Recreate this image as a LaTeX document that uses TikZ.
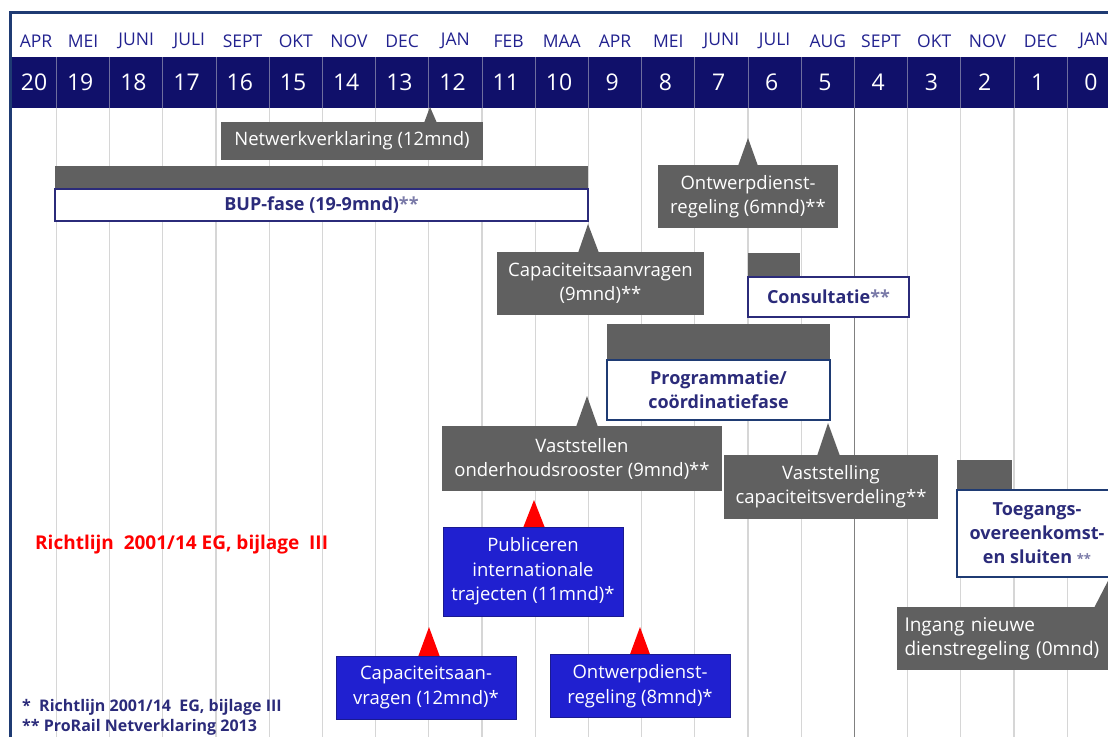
\documentclass[tikz,border=0pt]{standalone}
\usepackage{fontspec}
\setmainfont{Open Sans}
\definecolor{navyfill}{HTML}{10106A}
\definecolor{bordercol}{HTML}{1F3B73}
\definecolor{monthcol}{HTML}{22228F}
\definecolor{gboxcol}{HTML}{606060}
\definecolor{navytext}{HTML}{2B2B7A}
\definecolor{starcol}{HTML}{7A7AA8}
\definecolor{bluebox}{HTML}{2020D0}
\definecolor{blueedge}{HTML}{1A1A90}
\definecolor{gridcol}{HTML}{D6D6D6}
\definecolor{sepcol}{HTML}{6E6E9E}
\tikzset{
  gbox/.style={fill=gboxcol, draw=none, text=white, align=center, inner sep=0pt,
    font=\fontsize{18.5}{24}\selectfont},
  gtab/.style={fill=gboxcol, draw=none, inner sep=0pt},
  wbox/.style={fill=white, draw=navytext, line width=1.5pt, text=navytext, align=center, inner sep=0pt,
    font=\bfseries\fontsize{18}{24}\selectfont},
  bbox/.style={fill=bluebox, draw=blueedge, line width=1pt, text=white, align=center, inner sep=0pt,
    font=\fontsize{18.5}{24.5}\selectfont},
  monthlbl/.style={text=monthcol, font=\fontsize{17.5}{20}\selectfont, inner sep=0pt},
  numlbl/.style={text=white, font=\fontsize{23}{26}\selectfont, inner sep=0pt},
  ptr/.style={fill=gboxcol},
  rptr/.style={fill=red},
  note/.style={text=navytext, font=\bfseries\fontsize{16}{20}\selectfont, anchor=west, inner sep=0pt}
}
\begin{document}
\begin{tikzpicture}[x=1pt,y=-1pt]
\useasboundingbox (0,0) rectangle (1108,737);
\clip (0,0) rectangle (1108,737);
% number row
\fill[navyfill] (10,57) rectangle (1108,108);
% grid lines
\foreach \k in {0,...,19}{
  \pgfmathsetmacro{\xx}{56.4+53.2*\k}
  \draw[gridcol, line width=1.3pt] (\xx,108) -- (\xx,737);
  \draw[sepcol, line width=1pt] (\xx,57) -- (\xx,108);
}
\draw[gray, line width=1.2pt] (854.4,108) -- (854.4,737);
% border
\draw[bordercol, line width=3pt] (10,737) -- (10,12.5) -- (1108,12.5);
% months and numbers
\foreach \m [count=\i from 0] in {APR,MEI,JUNI,JULI,SEPT,OKT,NOV,DEC,JAN,FEB,MAA,APR,MEI,JUNI,JULI,AUG,SEPT,OKT,NOV,DEC,JAN}{
  \pgfmathsetmacro{\cx}{ifthenelse(\i==0,36,29.8+53.2*\i)}
  \node[monthlbl] (m\i) at (\cx,41) {\m};
}
\foreach \n [count=\i from 0] in {20,19,18,17,16,15,14,13,12,11,10,9,8,7,6,5,4,3,2,1,0}{
  \pgfmathsetmacro{\cx}{ifthenelse(\i==0,34,27+53.2*\i)}
  \node[numlbl] (n\i) at (\cx,82) {\n};
}

% Netwerkverklaring
\fill[ptr] (430,107) -- (437,123) -- (424,123) -- cycle;
\node[gbox, minimum width=262pt, minimum height=38pt] (netw) at (352,141) {Netwerkverklaring (12mnd)};

% BUP-fase
\node[gtab, minimum width=533pt, minimum height=23pt] (buptab) at (321.5,177.5) {};
\node[wbox, minimum width=533pt, minimum height=32pt] (bup) at (321.5,205) {BUP-fase (19-9mnd)\textcolor{starcol}{**}};

% Capaciteitsaanvragen (9mnd)
\fill[ptr] (588,224) -- (599,253) -- (578,253) -- cycle;
\node[gbox, minimum width=207pt, minimum height=63pt] (capa9) at (600.5,283.5) {Capaciteitsaanvragen\\(9mnd)**};

% Ontwerpdienstregeling (6mnd)
\fill[ptr] (748,138) -- (758,166) -- (738,166) -- cycle;
\node[gbox, minimum width=180pt, minimum height=63pt] (ontw6) at (748,196.5) {Ontwerpdienst-\\regeling (6mnd)**};

% Consultatie
\node[gtab, minimum width=52pt, minimum height=25pt] (constab) at (774,265.5) {};
\node[wbox, minimum width=161pt, minimum height=40pt] (cons) at (828.5,297) {Consultatie\textcolor{starcol}{**}};

% Programmatie
\node[gtab, minimum width=223pt, minimum height=37pt] (progtab) at (718.5,342.5) {};
\node[wbox, draw=bordercol, line width=2pt, minimum width=223pt, minimum height=60pt] (prog) at (718.5,390) {Programmatie/\\co\"ordinatiefase};

% Vaststellen onderhoudsrooster
\fill[ptr] (587,396) -- (598,427) -- (576,427) -- cycle;
\node[gbox, minimum width=280pt, minimum height=65pt] (onderh) at (582,458.5) {Vaststellen\\onderhoudsrooster (9mnd)**};

% Vaststelling capaciteitsverdeling
\fill[ptr] (828,423) -- (840,456) -- (817,456) -- cycle;
\node[gbox, minimum width=214pt, minimum height=64pt] (verd) at (831,487) {Vaststelling\\capaciteitsverdeling**};

% Toegangsovereenkomsten
\node[gtab, minimum width=55pt, minimum height=31pt] (toegtab) at (984.5,475) {};
\node[wbox, draw=bordercol, minimum width=160pt, minimum height=87pt, font=\bfseries\fontsize{18}{24}\selectfont] (toeg) at (1037,533.5) {Toegangs-\\overeenkomst-\\en sluiten \textcolor{starcol}{\fontsize{13}{14}\selectfont **}};

% Ingang nieuwe dienstregeling
\fill[ptr] (1110,577) -- (1108,608) -- (1094,608) -- cycle;
\node[gbox, align=left, text width=205pt, minimum width=220pt, minimum height=63pt, font=\fontsize{19}{24}\selectfont] (ingang) at (1007,638.5) {Ingang nieuwe\\dienstregeling (0mnd)};

% Richtlijn
\node[text=red, font=\bfseries\fontsize{19}{22}\selectfont, anchor=west, inner sep=0pt] (richt) at (35,545) {Richtlijn~~2001/14 EG, bijlage~~III};

% Publiceren
\fill[rptr] (534,500) -- (545,528) -- (523,528) -- cycle;
\node[bbox, minimum width=180pt, minimum height=89pt] (publ) at (533,571.5) {Publiceren\\internationale\\trajecten (11mnd)*};

% Capaciteitsaanvragen (12mnd)
\fill[rptr] (429,627) -- (440,657) -- (418,657) -- cycle;
\node[bbox, minimum width=180pt, minimum height=63pt] (capa12) at (426,687.5) {Capaciteitsaan-\\vragen (12mnd)*};

% Ontwerpdienstregeling (8mnd)
\fill[rptr] (640,627) -- (651,657) -- (629,657) -- cycle;
\node[bbox, minimum width=180pt, minimum height=63pt] (ontw8) at (640,686) {Ontwerpdienst-\\regeling (8mnd)*};

% Footnotes
\node[note] (fn1) at (22,707) {*~~Richtlijn 2001/14~~EG, bijlage III};
\node[note] (fn2) at (22,727) {** ProRail Netverklaring 2013};
\end{tikzpicture}
\end{document}
